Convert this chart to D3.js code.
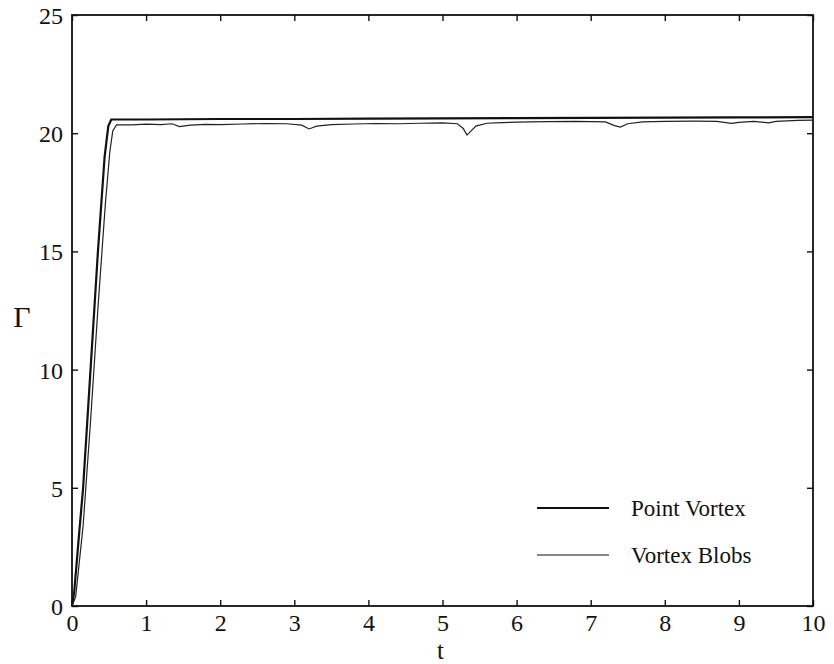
<!DOCTYPE html>
<html>
<head>
<meta charset="utf-8">
<script src="https://cdn.jsdelivr.net/npm/d3@7/dist/d3.min.js"></script>
<style>
  html, body { margin: 0; padding: 0; background: #fff; }
  svg { display: block; }
  text { font-family: "Liberation Serif", "Times New Roman", serif; fill: #111; }
</style>
</head>
<body>
<svg id="chart" width="834" height="664"></svg>
<script>
// Circulation Γ(t): point-vortex model vs. vortex-blob model
const pointT     = [0, 0.03, 0.1, 0.15, 0.25, 0.35, 0.44, 0.49, 0.53, 1, 2, 3, 4, 5, 6, 7, 8, 9, 10];
const pointGamma = [0, 0.6, 3.2, 5.0, 10.0, 15.0, 19.0, 20.3, 20.58, 20.58, 20.6, 20.6, 20.62, 20.63, 20.64, 20.65, 20.66, 20.67, 20.68];

const blobT     = [0, 0.05, 0.15, 0.25, 0.35, 0.45, 0.51, 0.55, 0.6, 0.8, 1.0, 1.2, 1.35, 1.45, 1.6, 1.8, 2.0, 2.3, 2.6, 2.9, 3.1, 3.2, 3.3, 3.5, 3.8, 4.1, 4.4, 4.7, 5.0, 5.2, 5.28, 5.33, 5.45, 5.6, 5.8, 6.0, 6.4, 6.8, 7.2, 7.32, 7.4, 7.5, 7.7, 8.0, 8.4, 8.7, 8.9, 9.0, 9.2, 9.4, 9.5, 9.8, 10];
const blobGamma = [0, 0.4, 3.4, 7.8, 12.6, 17.0, 19.2, 20.1, 20.35, 20.35, 20.38, 20.36, 20.4, 20.28, 20.34, 20.37, 20.36, 20.39, 20.41, 20.4, 20.34, 20.18, 20.3, 20.36, 20.39, 20.41, 20.4, 20.42, 20.44, 20.4, 20.2, 19.92, 20.3, 20.42, 20.45, 20.47, 20.49, 20.5, 20.48, 20.32, 20.26, 20.4, 20.48, 20.5, 20.51, 20.5, 20.42, 20.46, 20.5, 20.44, 20.5, 20.54, 20.55];

const xTicks = [0, 1, 2, 3, 4, 5, 6, 7, 8, 9, 10];
const yTicks = [0, 5, 10, 15, 20, 25];
const legendLabels = ["Point Vortex", "Vortex Blobs"];

const svg = d3.select("#chart");
const plotLeft = 72, plotRight = 813, plotTop = 15, plotBottom = 606;

const x = d3.scaleLinear().domain([0, 10]).range([plotLeft, plotRight]);
const y = d3.scaleLinear().domain([0, 25]).range([plotBottom, plotTop]);

// frame
svg.append("rect")
  .attr("x", plotLeft).attr("y", plotTop)
  .attr("width", plotRight - plotLeft).attr("height", plotBottom - plotTop)
  .attr("fill", "none").attr("stroke", "#111").attr("stroke-width", 1.8);

const tickLen = 6;
const fontSize = 24;

// bottom axis (ticks inward)
const xAxisB = svg.append("g")
  .attr("transform", `translate(0,${plotBottom})`)
  .call(d3.axisBottom(x).tickValues(xTicks).tickSizeInner(-tickLen).tickSizeOuter(0).tickPadding(tickLen + 2).tickFormat(d3.format("d")));
// top axis mirror
const xAxisT = svg.append("g")
  .attr("transform", `translate(0,${plotTop})`)
  .call(d3.axisTop(x).tickValues(xTicks).tickSizeInner(-tickLen).tickSizeOuter(0).tickFormat(""));
// left axis
const yAxisL = svg.append("g")
  .attr("transform", `translate(${plotLeft},0)`)
  .call(d3.axisLeft(y).tickValues(yTicks).tickSizeInner(-tickLen).tickSizeOuter(0).tickPadding(tickLen + 3).tickFormat(d3.format("d")));
// right axis mirror
const yAxisR = svg.append("g")
  .attr("transform", `translate(${plotRight},0)`)
  .call(d3.axisRight(y).tickValues(yTicks).tickSizeInner(-tickLen).tickSizeOuter(0).tickFormat(""));

[xAxisB, xAxisT, yAxisL, yAxisR].forEach(g => {
  g.select(".domain").remove();
  g.selectAll(".tick line").attr("stroke", "#111").attr("stroke-width", 1.4);
  g.selectAll(".tick text")
    .attr("font-family", "'Liberation Serif', 'Times New Roman', serif")
    .attr("font-size", fontSize).attr("fill", "#111");
});
yAxisL.selectAll(".tick text").attr("dy", "0.35em");

// axis titles
svg.append("text")
  .attr("x", (plotLeft + plotRight) / 2 - 2).attr("y", 659)
  .attr("text-anchor", "middle").attr("font-size", 25).text("t");
svg.append("text")
  .attr("x", 22).attr("y", 327)
  .attr("text-anchor", "middle").attr("font-size", 30).text("Γ");

// curves
const line = d3.line().x(d => x(d[0])).y(d => y(d[1]));
const pointData = pointT.map((t, i) => [t, pointGamma[i]]);
const blobData = blobT.map((t, i) => [t, blobGamma[i]]);

svg.append("path").datum(pointData)
  .attr("d", line).attr("fill", "none")
  .attr("stroke", "#111").attr("stroke-width", 2.2);
svg.append("path").datum(blobData)
  .attr("d", line).attr("fill", "none")
  .attr("stroke", "#222").attr("stroke-width", 1.2);

// legend
const legendY = [508, 555];
const legendW = [2.2, 1.2];
legendLabels.forEach((lab, i) => {
  svg.append("line")
    .attr("x1", 537).attr("x2", 609)
    .attr("y1", legendY[i]).attr("y2", legendY[i])
    .attr("stroke", "#111").attr("stroke-width", legendW[i]);
  svg.append("text")
    .attr("x", 631).attr("y", legendY[i])
    .attr("dy", "0.35em").attr("font-size", 23).text(lab);
});
</script>
</body>
</html>
